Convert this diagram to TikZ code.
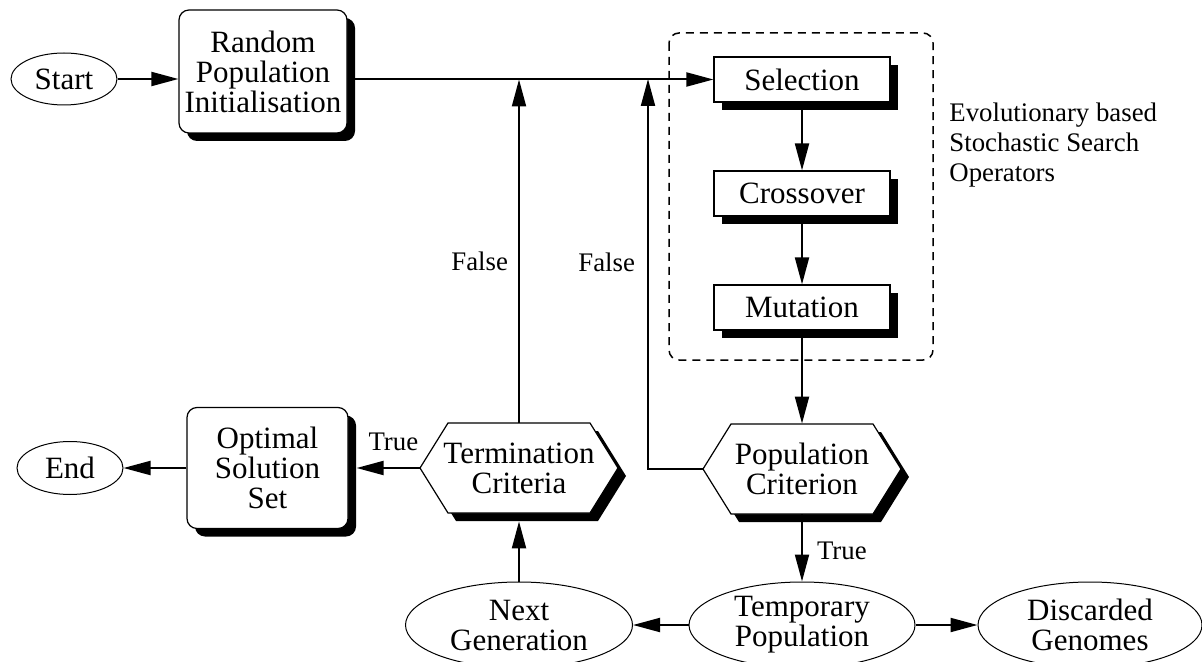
\documentclass[tikz,border=0pt]{standalone}
\usepackage{fontspec}
\setmainfont{Liberation Serif}
\usetikzlibrary{arrows.meta,shadows,shapes.geometric,calc}
\begin{document}
\begin{tikzpicture}[x=0.5pt,y=-0.5pt,
  nodefont/.style={font=\fontsize{15.5}{15}\selectfont},
  lblfont/.style={font=\fontsize{13.4}{15}\selectfont},
  conn/.style={line width=1pt,-{Triangle[length=13.5pt,width=7pt]}},
  oval/.style={ellipse,draw,line width=0.5pt,inner sep=0pt,align=center,nodefont},
  shade/.style={drop shadow={shadow xshift=4pt,shadow yshift=-4pt,opacity=1,fill=black}},
  rbox/.style={draw,rounded corners=5pt,line width=0.6pt,fill=white,align=center,inner sep=0pt,nodefont,shade},
  sbox/.style={draw,line width=0.6pt,fill=white,align=center,inner sep=0pt,nodefont,shade,minimum width=88pt,minimum height=22.5pt},
  hexnode/.style={minimum width=99pt,minimum height=45pt,inner sep=0pt,align=center,nodefont},
  hexpic/.pic={
    \fill[black] (-91,8) -- (-63,-37) -- (79,-37) -- (107,8) -- (79,53) -- (-63,53) -- cycle;
    \filldraw[fill=white,line width=0.6pt] (-99,0) -- (-71,-45) -- (71,-45) -- (99,0) -- (71,45) -- (-71,45) -- cycle;},
  lbl/.style={lblfont,inner sep=0pt},
  groupbox/.style={draw,line width=0.75pt,dash pattern=on 4pt off 3pt,rounded corners=5pt}
]
\useasboundingbox (0,0) rectangle (1202,662);

% top row
\node[oval,minimum width=53pt,minimum height=26pt] (start) at (64,79) {Start};
\node[rbox,minimum width=84pt,minimum height=61.5pt] (rand) at (263,71.5) {Random\\Population\\Initialisation};

% operators
\draw[groupbox] (669,33) rectangle (933,360);
\node[sbox] (sel) at (802,79.5) {Selection};
\node[sbox] (cross) at (802,193.5) {Crossover};
\node[sbox] (mut) at (802,307.5) {Mutation};
\node[lbl,align=left,anchor=west] (evo) at (949,145) {Evolutionary based\\Stochastic Search\\Operators};

% criteria
\pic at (519,468) {hexpic};
\node[hexnode] (term) at (519,468) {Termination\\Criteria};
\pic at (802,469) {hexpic};
\node[hexnode] (pop) at (802,469) {Population\\Criterion};

\node[rbox,minimum width=80.5pt,minimum height=60.5pt] (opt) at (267.5,468) {Optimal\\Solution\\Set};
\node[oval,minimum width=53pt,minimum height=26.5pt] (end) at (70,468) {End};

% bottom row
\node[oval,minimum width=113.5pt,minimum height=43pt] (next) at (519,625) {Next\\Generation};
\node[oval,minimum width=113pt,minimum height=43pt] (temp) at (802,625) {Temporary\\Population};
\node[oval,minimum width=112pt,minimum height=43pt] (disc) at (1090,625) {Discarded\\Genomes};

% connectors
\draw[conn] (start.east) -- (start.east -| rand.west);
\draw[conn] (rand.east |- sel.west) -- (sel.west);
\draw[conn] (sel) -- (cross);
\draw[conn] (cross) -- (mut);
\draw[conn] (mut) -- (pop.north);

\coordinate (j1) at (term.north |- sel.west);
\draw[conn] (term.north) -- node[lbl,left=5pt,pos=0.47] {False} (j1);
\coordinate (j2) at (648,79);
\draw[conn] (pop.west) -| node[lbl,left=6pt,pos=0.765] {False} (j2);

\draw[conn,shorten >=4pt] (term.west) -- node[lbl,above=8pt,pos=0.37] {True} (opt.east);
\draw[conn] (opt.west) -- (end.east);

\draw[conn] (pop.south) -- node[lbl,right=7pt,pos=0.55] {True} (temp.north);
\draw[conn] (temp.west) -- (next.east);
\draw[conn] (temp.east) -- (disc.west);
\draw[conn,shorten >=4pt] (next.north) -- (term.south);
\end{tikzpicture}
\end{document}
